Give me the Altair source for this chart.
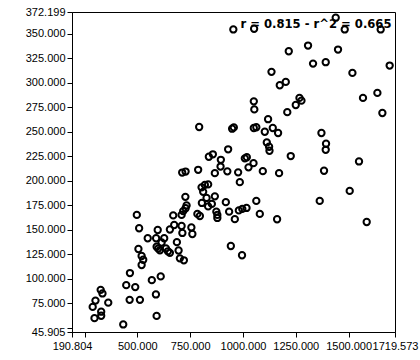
import altair as alt
import pandas as pd

x_vals = [326.5, 335.0, 301.9, 362.4, 288.7, 328.9, 328.9, 297.2, 433.3, 465.0,
          447.5, 490.1, 568.6, 610.7, 463.6, 512.3, 588.0, 591.3, 497.6, 508.5,
          505.2, 520.3, 527.9, 520.3, 549.2, 588.9, 627.2, 596.5, 654.1, 674.5,
          709.5, 713.2, 755.8, 760.5, 614.9, 687.2, 591.3, 598.8, 606.9, 635.2,
          644.7, 654.1, 695.3, 701.4, 720.3, 669.8, 709.5, 717.0, 728.4, 733.1,
          727.4, 784.2, 796.0, 787.9, 712.3, 728.4, 804.0, 819.6, 835.2, 811.6,
          827.7, 866.9, 805.5, 835.2, 852.7, 918.9, 874.0, 878.7, 878.7, 934.5,
          961.5, 980.4, 996.9, 1016.8, 1063.1, 1079.7, 1161.5, 942.6, 995.5, 866.9,
          895.3, 893.9, 838.5, 857.5, 929.8, 1008.8, 1018.2, 1049.9, 1026.2, 926.0,
          977.1, 985.1, 1093.9, 1170.9, 1226.2, 1112.8, 1123.6, 1125.5, 1393.2, 1391.7,
          1383.7, 1549.2, 1505.2, 1363.3, 1585.6, 1103.3, 1141.1, 1166.2, 1118.9, 1051.3,
          1063.1, 948.7, 956.7, 792.7, 1371.4, 1051.3, 1053.7, 1209.7, 1249.9, 1267.4,
          1276.8, 1568.1, 1636.2, 1659.8, 1174.2, 1202.6, 1135.0, 1518.0, 1694.3, 1331.7,
          1391.7, 1216.8, 1308.0, 1449.9, 954.4, 1052.7, 1439.0, 1481.6, 1651.8]

y_vals = [88.9, 85.2, 77.9, 75.8, 71.5, 66.6, 62.5, 60.0, 53.6, 106.0,
          93.7, 91.7, 98.8, 102.6, 78.7, 78.7, 84.2, 62.3, 165.3, 151.7,
          130.5, 123.4, 119.6, 114.2, 141.5, 141.5, 141.5, 149.9, 150.4, 155.0,
          154.0, 146.9, 152.5, 145.8, 137.2, 137.5, 132.9, 131.0, 129.2, 131.2,
          128.2, 126.6, 129.0, 121.0, 119.0, 164.8, 165.3, 169.1, 172.1, 175.0,
          183.7, 166.3, 164.2, 211.3, 208.5, 209.5, 193.4, 195.9, 196.4, 188.8,
          182.6, 184.2, 177.5, 174.0, 176.5, 178.3, 168.6, 165.3, 162.2, 168.6,
          161.0, 169.9, 171.4, 172.4, 179.6, 166.3, 160.9, 133.6, 124.2, 207.9,
          221.5, 214.6, 224.6, 227.1, 232.2, 223.0, 224.1, 218.1, 213.8, 209.7,
          208.7, 198.7, 209.9, 207.9, 225.3, 239.2, 234.8, 230.7, 237.9, 231.7,
          210.3, 219.8, 189.8, 179.6, 158.1, 250.1, 253.9, 248.8, 262.9, 253.9,
          254.7, 253.2, 254.5, 254.9, 248.8, 281.1, 272.9, 270.1, 277.4, 284.6,
          281.8, 284.6, 289.7, 269.2, 297.5, 300.9, 311.2, 310.1, 317.6, 319.6,
          321.0, 332.2, 338.0, 333.9, 354.4, 355.1, 366.4, 354.4, 354.4]

x_domain = [190.804, 1719.573]
y_domain = [45.905, 372.199]
x_ticks = [190.804, 250, 500, 750, 1000, 1250, 1500, 1719.573]
y_ticks = [45.905, 50, 75, 100, 125, 150, 175, 200, 225, 250, 275, 300, 325, 350, 372.199]

ann_x = [1703.0]
ann_y = [356.0]
ann_text = ["r = 0.815 - r^2 = 0.665"]

df = pd.DataFrame({"x": x_vals, "y": y_vals})
ann = pd.DataFrame({"x": ann_x, "y": ann_y, "t": ann_text})

x_axis = alt.Axis(values=x_ticks, title=None, grid=False,
                  labelExpr="(datum.value == 250) ? '' : format(datum.value, '.3f')",
                  labelOverlap=False, labelFlush=False, labelBound=False,
                  tickSize=5, labelPadding=3, domainColor="black", tickColor="black",
                  labelColor="black", labelFont="Liberation Sans", labelFontSize=11)
y_axis = alt.Axis(values=y_ticks, title=None, grid=False,
                  labelExpr="(datum.value == 50) ? '' : format(datum.value, '.3f')",
                  labelOverlap=False, labelFlush=False, labelBound=False,
                  tickSize=5, labelPadding=2, domainColor="black", tickColor="black",
                  labelColor="black", labelFont="Liberation Sans", labelFontSize=11)

xs = alt.Scale(domain=x_domain, nice=False, zero=False)
ys = alt.Scale(domain=y_domain, nice=False, zero=False)

points = alt.Chart(df).mark_point(shape="circle", filled=False, color="black",
                                  size=40, strokeWidth=2, opacity=1).encode(
    x=alt.X("x:Q", scale=xs, axis=x_axis),
    y=alt.Y("y:Q", scale=ys, axis=y_axis),
)

label = alt.Chart(ann).mark_text(align="right", baseline="alphabetic",
                                 font="DejaVu Sans", fontWeight="bold",
                                 fontSize=11.6, color="black").encode(
    x=alt.X("x:Q", scale=xs, axis=x_axis),
    y=alt.Y("y:Q", scale=ys, axis=y_axis),
    text="t:N",
)

chart = alt.layer(points, label).properties(
    width=323, height=320,
    autosize=alt.AutoSizeParams(type="none"),
    padding={"left": 72, "top": 12, "right": 25, "bottom": 28},
    background="white",
).configure_view(stroke="black", strokeWidth=1).configure_axis(labelOverlap=False)

chart.save("out.html", embed_options={"renderer": "svg", "actions": False})
